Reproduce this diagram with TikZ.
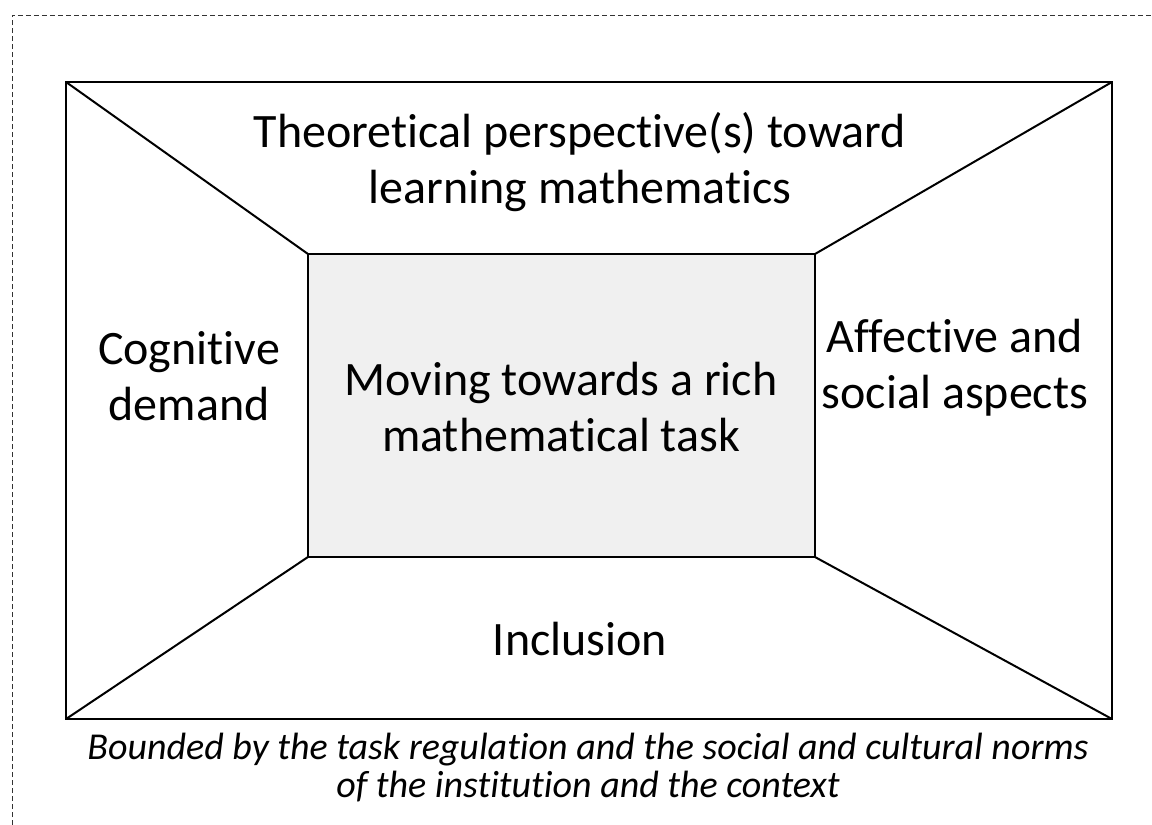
\documentclass[tikz,border=0pt]{standalone}
\usepackage{fontspec}
\setmainfont{Carlito}[RawFeature={-liga}]
\begin{document}
\begin{tikzpicture}[x=1pt,y=-1pt,
  frame/.style={draw=black,line width=2.2pt,inner sep=0pt,outer sep=0pt},
  edge/.style={draw=black,line width=2pt},
  lbl/.style={align=center,font=\fontsize{48}{56}\selectfont,inner sep=0pt},
  note/.style={align=center,font=\fontsize{38}{38}\selectfont\itshape,inner sep=0pt}]
\useasboundingbox (0,0) rectangle (1152,825);
\fill[white] (0,0) rectangle (1152,825);
\coordinate (bl) at (12,825);
\coordinate (tl) at (12,15);
\coordinate (tr) at (1152,15);
\draw[line width=1pt,dash pattern=on 5pt off 3pt,color=black!80] (bl) -- (tl) -- (tr);
\node[frame,minimum width=1046pt,minimum height=637pt] (outer) at (589,400.5) {};
\node[frame,fill=black!6,minimum width=507pt,minimum height=303pt] (inner) at (561.5,405.5) {};
\draw[edge] (outer.north west) -- (inner.north west);
\draw[edge] (outer.north east) -- (inner.north east);
\draw[edge] (outer.south west) -- (inner.south west);
\draw[edge] (outer.south east) -- (inner.south east);
\node[lbl] (theory) at (580,162) {Theoretical perspective(s) toward\\learning mathematics};
\node[lbl] (cog) at (189,376) {Cognitive\\demand};
\node[lbl] (task) at (561,407) {Moving towards a rich\\mathematical task};
\node[lbl] (aff) at (955,368) {Affective and\\social aspects};
\node[lbl] (incl) at (580,639) {Inclusion};
\node[note] (bound) at (588,768) {Bounded by the task regulation and the social and cultural norms\\of the institution and the context};
\end{tikzpicture}
\end{document}
